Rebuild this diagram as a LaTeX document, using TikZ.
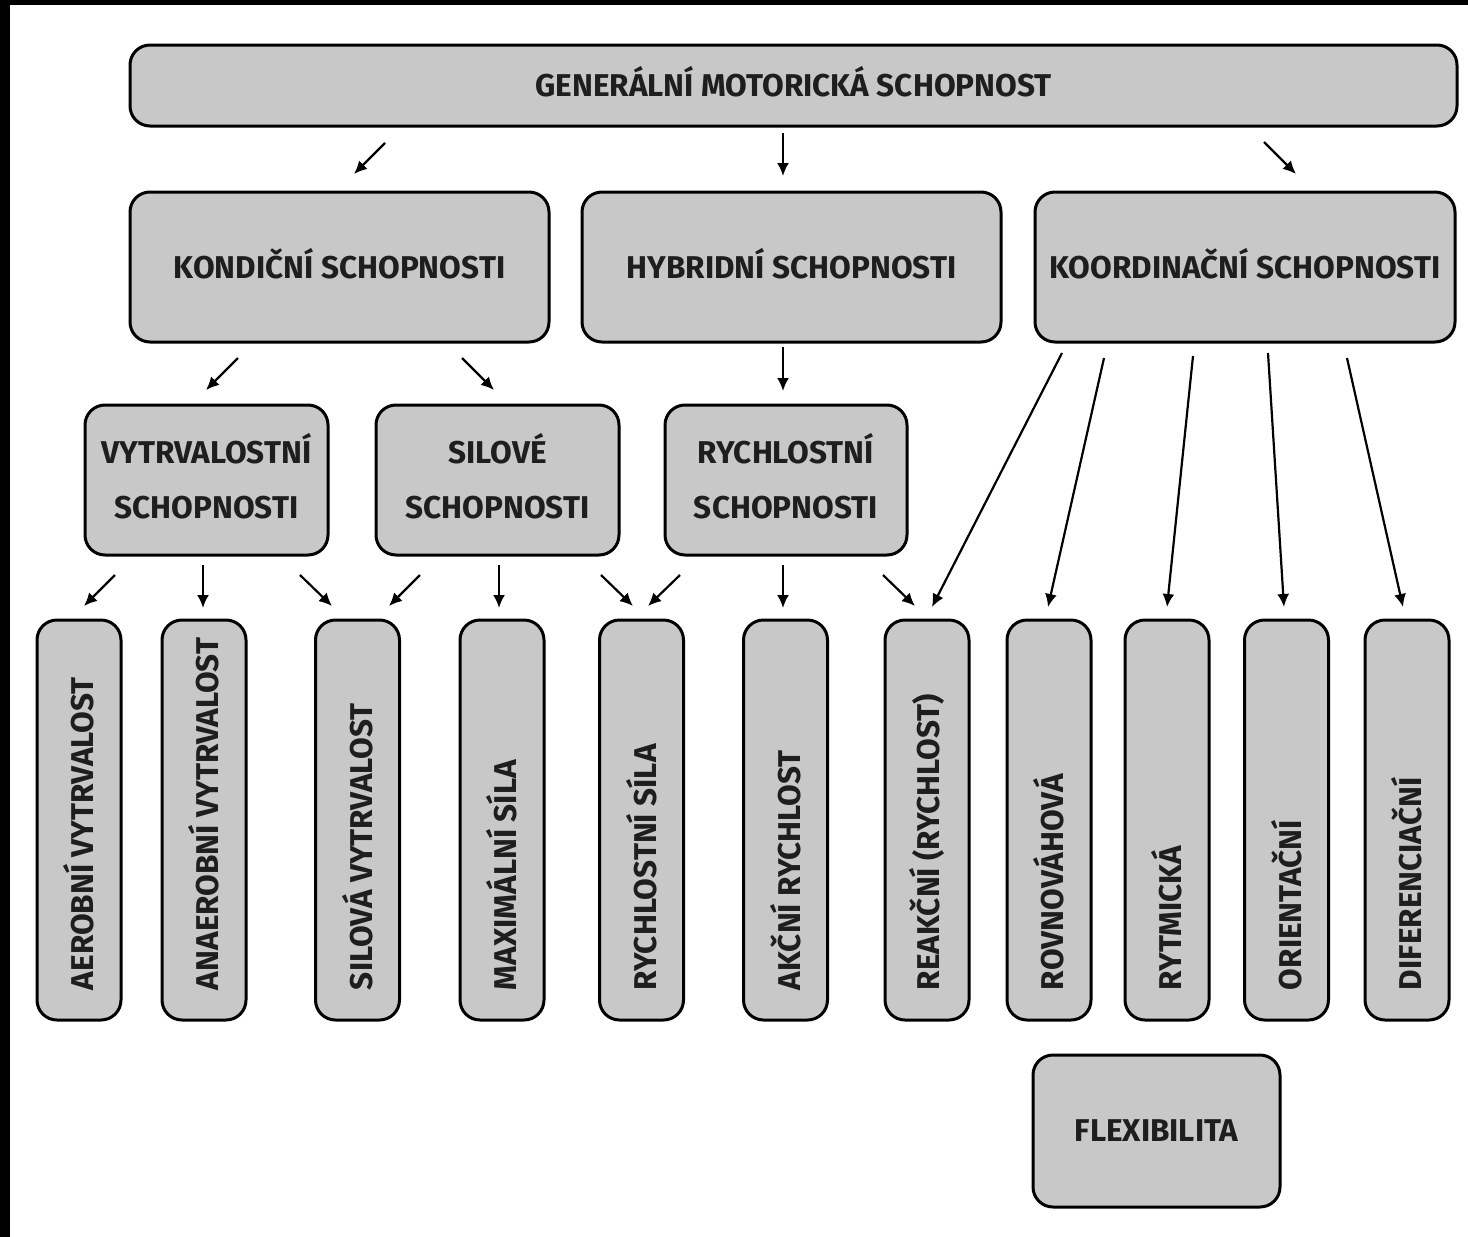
\documentclass[tikz,border=0pt]{standalone}
\usepackage{fontspec}
\setmainfont{Fira Sans}
\usetikzlibrary{arrows.meta}
\definecolor{boxgray}{HTML}{C8C8C8}
\definecolor{textgray}{HTML}{1E1E1E}
\tikzset{
  box/.style={draw=black, line width=3pt, fill=boxgray, rounded corners=20pt,
    text=textgray, font=\bfseries\fontsize{31.5}{55}\selectfont, inner sep=0pt, align=center},
  hbox/.style={box, text depth=8pt},
  vbox/.style={box, rotate=90, minimum height=84pt, text width=380pt, inner xsep=10pt, align=flush left,
    execute at begin node=\hspace*{20pt}},
  arr/.style={-{Latex[length=13pt,width=12pt]}, line width=2.2pt, black},
}
\begin{document}
\begin{tikzpicture}[x=1pt,y=-1pt]
\useasboundingbox (0,0) rectangle (1468,1237);
\fill[white] (0,0) rectangle (1468,1237);
\fill[black] (0,0) rectangle (1468,5);
\fill[black] (0,0) rectangle (10,1237);

\node[hbox, minimum width=1327pt, minimum height=81pt] (gen) at (793.5,85.5) {GENERÁLNÍ MOTORICKÁ SCHOPNOST};

\node[hbox, minimum width=419pt, minimum height=150pt] (kond) at (339.5,267) {KONDIČNÍ SCHOPNOSTI};
\node[hbox, minimum width=419pt, minimum height=150pt] (hyb) at (791.5,267) {HYBRIDNÍ SCHOPNOSTI};
\node[hbox, minimum width=420pt, minimum height=150pt] (koord) at (1245,267) {KOORDINAČNÍ SCHOPNOSTI};

\node[hbox, minimum width=243pt, minimum height=150pt] (vytr) at (206.5,480) {VYTRVALOSTNÍ\\SCHOPNOSTI};
\node[hbox, minimum width=243pt, minimum height=150pt] (sil) at (497.5,480) {SILOVÉ\\SCHOPNOSTI};
\node[hbox, minimum width=242pt, minimum height=150pt] (rych) at (786,480) {RYCHLOSTNÍ\\SCHOPNOSTI};

\node[vbox] (aer) at (79,820) {AEROBNÍ VYTRVALOST};
\node[vbox] (ana) at (204,820) {ANAEROBNÍ VYTRVALOST};
\node[vbox] (silv) at (357.5,820) {SILOVÁ VYTRVALOST};
\node[vbox] (max) at (502,820) {MAXIMÁLNÍ SÍLA};
\node[vbox] (rsil) at (641.5,820) {RYCHLOSTNÍ SÍLA};
\node[vbox] (akc) at (785.5,820) {AKČNÍ RYCHLOST};
\node[vbox] (rea) at (927,820) {REAKČNÍ (RYCHLOST)};
\node[vbox] (rov) at (1049,820) {ROVNOVÁHOVÁ};
\node[vbox] (ryt) at (1167,820) {RYTMICKÁ};
\node[vbox] (ori) at (1286.5,820) {ORIENTAČNÍ};
\node[vbox] (dif) at (1407,820) {DIFERENCIAČNÍ};

\node[box, minimum width=247pt, minimum height=152pt] (flex) at (1156.5,1131) {FLEXIBILITA};

% arrow end points
\coordinate (g1s) at (385,143); \coordinate (g1e) at (354,174);
\coordinate (g2s) at (783,133); \coordinate (g2e) at (783,176);
\coordinate (g3s) at (1264,142); \coordinate (g3e) at (1296,174);
\coordinate (k1s) at (238,358); \coordinate (k1e) at (206,390);
\coordinate (k2s) at (462,358); \coordinate (k2e) at (494,390);
\coordinate (h1s) at (783,347); \coordinate (h1e) at (783,391);
\coordinate (v1s) at (115,575); \coordinate (v1e) at (84,606);
\coordinate (v2s) at (203,565); \coordinate (v2e) at (203,608);
\coordinate (v3s) at (300,575); \coordinate (v3e) at (332,606);
\coordinate (s1s) at (420,575); \coordinate (s1e) at (389,606);
\coordinate (s2s) at (499,565); \coordinate (s2e) at (499,608);
\coordinate (s3s) at (601,575); \coordinate (s3e) at (633,606);
\coordinate (r1s) at (680,575); \coordinate (r1e) at (648,606);
\coordinate (r2s) at (783,565); \coordinate (r2e) at (783,608);
\coordinate (r3s) at (883,575); \coordinate (r3e) at (915,606);
\coordinate (c1s) at (1062,353); \coordinate (c1e) at (932,607);
\coordinate (c2s) at (1104,358); \coordinate (c2e) at (1048,607);
\coordinate (c3s) at (1193,356); \coordinate (c3e) at (1167,607);
\coordinate (c4s) at (1268,353); \coordinate (c4e) at (1284,607);
\coordinate (c5s) at (1347,358); \coordinate (c5e) at (1403,607);

\foreach \a in {g1,g2,g3,k1,k2,h1,v1,v2,v3,s1,s2,s3,r1,r2,r3,c1,c2,c3,c4,c5}
  \draw[arr] (\a s) -- (\a e);
\end{tikzpicture}
\end{document}
